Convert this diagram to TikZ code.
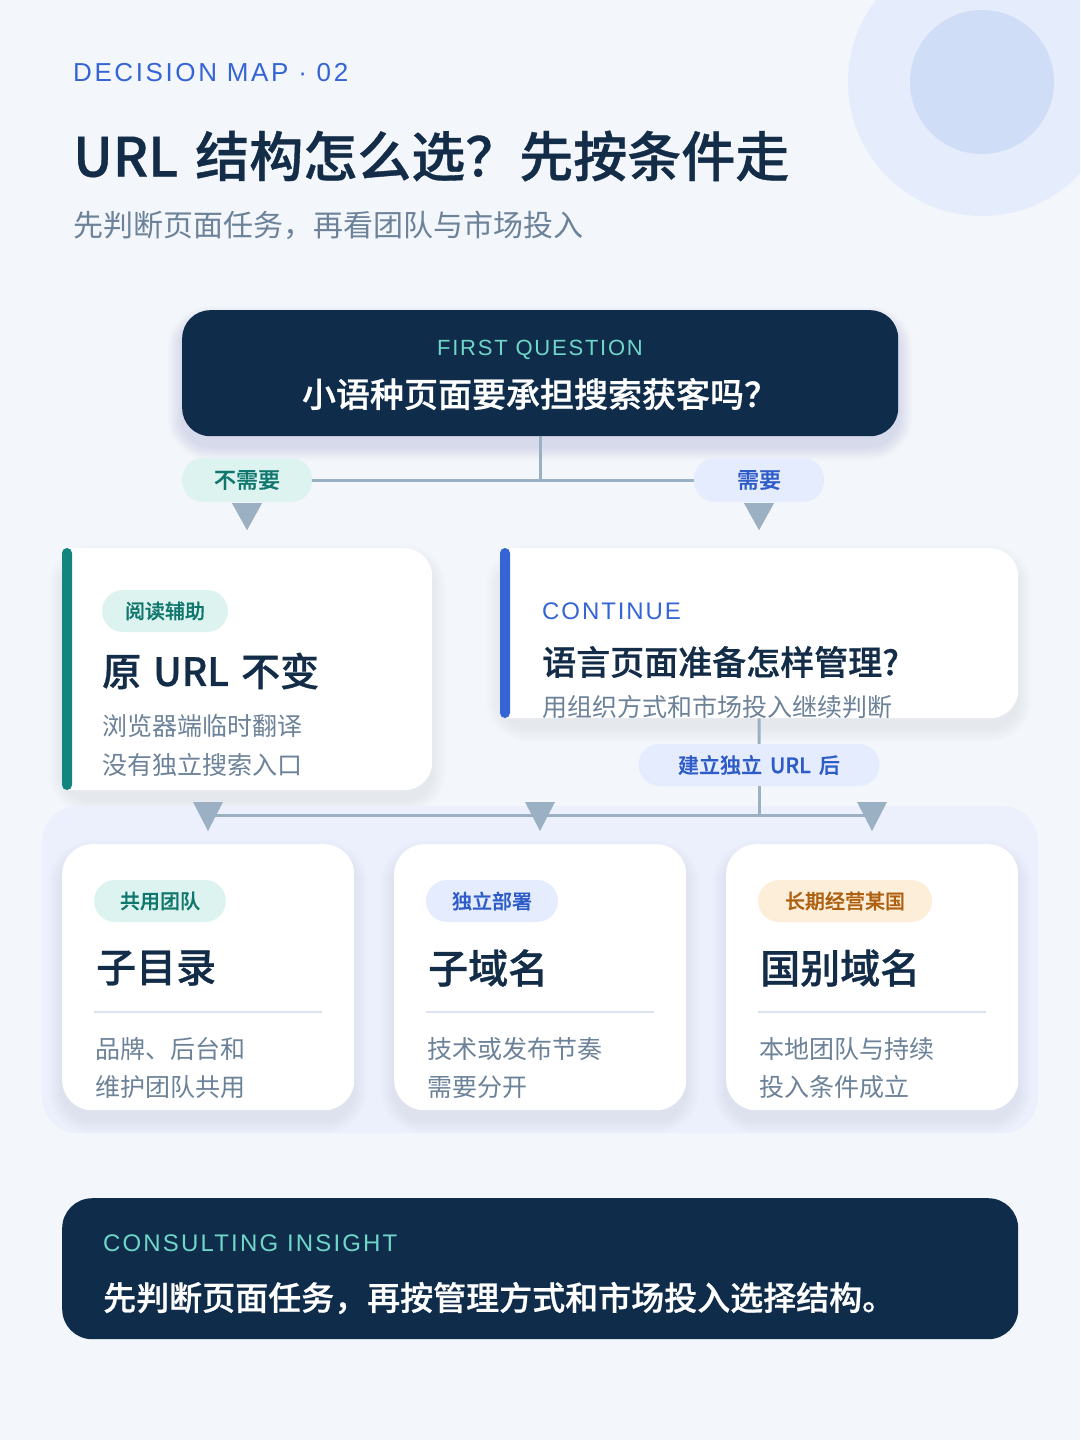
\documentclass[tikz,border=0pt]{standalone}
\usepackage{fontspec}
\setmainfont{Noto Sans CJK SC}[BoldFont={Noto Sans CJK SC Medium}, BoldFeatures={FakeBold=0.7}]
\newfontfamily\lsA[LetterSpace=10]{Liberation Sans}
\newfontfamily\lsB[LetterSpace=8]{Liberation Sans}
\newfontfamily\lsC[LetterSpace=9]{Liberation Sans}
\usetikzlibrary{calc}
\definecolor{bg}{HTML}{F3F6FB}
\definecolor{circbig}{HTML}{E5ECFC}
\definecolor{circsmall}{HTML}{D0DDF6}
\definecolor{navy}{HTML}{0F2D4B}
\definecolor{titlec}{HTML}{132C47}
\definecolor{greyt}{HTML}{6C8299}
\definecolor{bluet}{HTML}{3565D4}
\definecolor{bluedk}{HTML}{2D5BC8}
\definecolor{bluepill}{HTML}{E4ECFD}
\definecolor{tealbar}{HTML}{12857F}
\definecolor{tealt}{HTML}{0F776D}
\definecolor{tealpill}{HTML}{DDF3EF}
\definecolor{teallbl}{HTML}{6FD6C8}
\definecolor{orgpill}{HTML}{FDEEDA}
\definecolor{orgt}{HTML}{AE600F}
\definecolor{conn}{HTML}{9CB0C3}
\definecolor{panelc}{HTML}{EBF0FC}
\definecolor{divc}{HTML}{DCE3EE}
\definecolor{shadowc}{HTML}{7D8FB8}
\newcommand{\myfs}[1]{\fontsize{#1pt}{#1pt}\selectfont}
\newcommand{\softshadow}[6]{%
  \foreach \k in {1,...,14}{%
    \fill[shadowc, opacity=#6, rounded corners={(#5+\k)*1pt}] ({#1-\k},{#2-\k+10}) rectangle ({#3+\k},{#4+\k+10});
  }}
\begin{document}
\begin{tikzpicture}[x=1pt,y=-1pt,
  txt/.style={inner sep=0pt, anchor=west},
  ctxt/.style={inner sep=0pt},
  boxnode/.style={inner sep=0pt, anchor=north west, rounded corners=#1},
  pill/.style={inner sep=0pt, rounded corners=21pt, font=\bfseries},
  conline/.style={draw=conn, line width=3pt},
  tri/.style={fill=conn}]
\useasboundingbox (0,0) rectangle (1080,1440);
\fill[bg] (0,0) rectangle (1080,1440);
\begin{scope}
  \clip (0,0) rectangle (1080,1440);
  \fill[circbig] (982,82) circle[radius=134];
  \fill[circsmall] (982,82) circle[radius=72];
\end{scope}

% header
\node[txt, text=bluet] (kicker) at (73,73) {\lsA\myfs{26}DECISION MAP · 02};
\node[txt, text=titlec] (title) at (73,156) {\bfseries\myfs{54}URL\hspace{17pt}结构怎么选？先按条件走};
\node[txt, text=greyt] (subtitle) at (73,225) {\myfs{30}先判断页面任务，再看团队与市场投入};

% first question box
\softshadow{182}{310}{898}{436}{28}{0.016}
\node[boxnode=28pt, fill=navy, minimum width=716pt, minimum height=126pt] (q1) at (182,310) {};
\node[ctxt, text=teallbl] (q1label) at (540,350) {\lsB\myfs{22}FIRST QUESTION};
\node[ctxt, text=white] (q1text) at (540,394) {\bfseries\myfs{34}小语种页面要承担搜索获客吗？};

% pills top
\node[pill, fill=tealpill, text=tealt, minimum width=130pt, minimum height=44pt] (pno) at (247,480) {\myfs{22}不需要};
\node[pill, fill=bluepill, text=bluedk, minimum width=130pt, minimum height=44pt] (pyes) at (759,480) {\myfs{22}需要};
\draw[conline] (q1.south) -- (q1.south |- pno.center);
\draw[conline] (pno.east) -- (pyes.west);
\fill[tri] ($(pno.south)+(-15,1)$) -- ($(pno.south)+(15,1)$) -- ($(pno.south)+(0,28)$) -- cycle;
\fill[tri] ($(pyes.south)+(-15,1)$) -- ($(pyes.south)+(15,1)$) -- ($(pyes.south)+(0,28)$) -- cycle;

% left card
\softshadow{62}{548}{432}{790}{28}{0.009}
\node[boxnode=28pt, fill=white, minimum width=370pt, minimum height=242pt] (c1) at (62,548) {};
\fill[white, rounded corners=5pt] (64,548) rectangle (110,790);
\fill[tealbar, rounded corners=5pt] (62,548) rectangle (72,790);
\node[pill, fill=tealpill, text=tealt, minimum width=126pt, minimum height=42pt] (c1pill) at (165,611) {\myfs{20}阅读辅助};
\node[txt, text=titlec] (c1head) at (102,671) {\bfseries\myfs{39}原\hspace{12pt}URL\hspace{12pt}不变};
\node[txt, text=greyt] (c1l1) at (102,726) {\myfs{25}浏览器端临时翻译};
\node[txt, text=greyt] (c1l2) at (102,765) {\myfs{25}没有独立搜索入口};

% right card
\softshadow{500}{548}{1018}{718}{28}{0.009}
\node[boxnode=28pt, fill=white, minimum width=518pt, minimum height=170pt] (c2) at (500,548) {};
\fill[white, rounded corners=5pt] (502,548) rectangle (548,718);
\fill[bluet, rounded corners=5pt] (500,548) rectangle (510,718);
\node[txt, text=bluet] (c2label) at (542,611) {\lsB\myfs{24}CONTINUE};
\node[txt, text=titlec] (c2head) at (542,662) {\bfseries\myfs{34}语言页面准备怎样管理?};
\begin{scope}
  \clip (500,548) rectangle (1018,718);
  \node[txt, text=greyt] (c2sub) at (542,707) {\myfs{25}用组织方式和市场投入继续判断};
\end{scope}

% panel
\fill[panelc, rounded corners=36pt] (42,806) rectangle (1038,1133);

% connector to bottom
\node[pill, fill=bluepill, text=bluedk, minimum width=241pt, minimum height=42pt] (purl) at (759,765) {\myfs{21}建立独立\hspace{8pt}URL\hspace{8pt}后};
\coordinate (j1) at (208,815);
\coordinate (j2) at (540,815);
\coordinate (j3) at (872,815);
\draw[conline] (c2.south) -- (purl.north);
\draw[conline] (purl.south) -- (purl.south |- j2);
\draw[conline] (j1) -- (j3);
\foreach \j in {j1,j2,j3}{
  \fill[tri] ($(\j)+(-15,-13)$) -- ($(\j)+(15,-13)$) -- ($(\j)+(0,16)$) -- cycle;
}

% bottom cards
\foreach \bx/\nm in {62/b1,394/b2,726/b3}{
  \softshadow{\bx}{844}{\bx+292}{1110}{30}{0.009}
  \node[boxnode=30pt, fill=white, minimum width=292pt, minimum height=266pt] (\nm) at (\bx,844) {};
  \draw[divc, line width=2pt] (\bx+32,1012) -- (\bx+260,1012);
}
\node[pill, fill=tealpill, text=tealt, minimum width=132pt, minimum height=42pt] (bp1) at (160,901) {\myfs{20}共用团队};
\node[pill, fill=bluepill, text=bluedk, minimum width=132pt, minimum height=42pt] (bp2) at (492,901) {\myfs{20}独立部署};
\node[pill, fill=orgpill, text=orgt, minimum width=174pt, minimum height=42pt] (bp3) at (845,901) {\myfs{20}长期经营某国};

\node[txt, text=titlec] (b1h) at (96,968) {\bfseries\myfs{40}子目录};
\node[txt, text=titlec] (b2h) at (428,968) {\bfseries\myfs{40}子域名};
\node[txt, text=titlec] (b3h) at (760,968) {\bfseries\myfs{40}国别域名};

\node[txt, text=greyt] (b1a) at (95,1049) {\myfs{25}品牌、后台和};
\node[txt, text=greyt] (b1b) at (95,1087) {\myfs{25}维护团队共用};
\node[txt, text=greyt] (b2a) at (427,1049) {\myfs{25}技术或发布节奏};
\node[txt, text=greyt] (b2b) at (427,1087) {\myfs{25}需要分开};
\node[txt, text=greyt] (b3a) at (759,1049) {\myfs{25}本地团队与持续};
\node[txt, text=greyt] (b3b) at (759,1087) {\myfs{25}投入条件成立};

% insight box
\node[boxnode=30pt, fill=navy, minimum width=956pt, minimum height=141pt] (fbox) at (62,1198) {};
\node[txt, text=teallbl] (flabel) at (103,1243) {\lsC\myfs{24}CONSULTING INSIGHT};
\node[txt, text=white] (ftext) at (103,1298) {\bfseries\myfs{33}先判断页面任务，再按管理方式和市场投入选择结构。};
\end{tikzpicture}
\end{document}
